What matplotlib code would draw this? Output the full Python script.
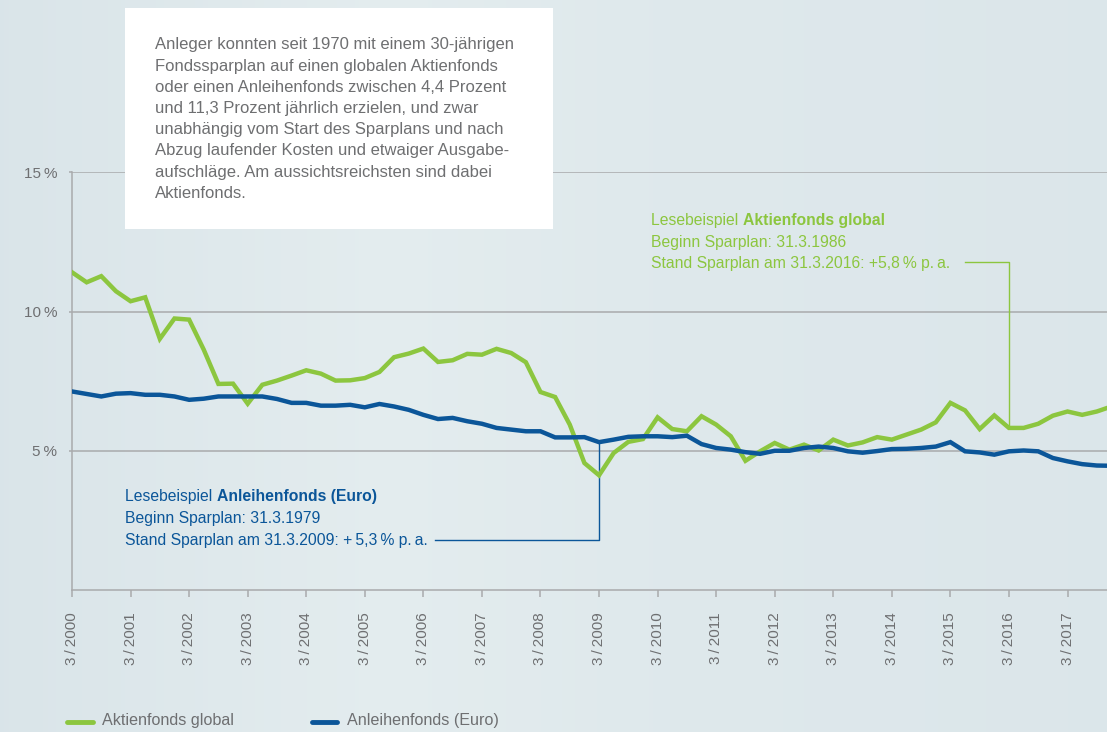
import numpy as np
import matplotlib
matplotlib.use("Agg")
import matplotlib.pyplot as plt
from matplotlib.patches import Rectangle
from matplotlib.lines import Line2D

plt.rcParams['font.family'] = ['Liberation Sans', 'DejaVu Sans']

# quarterly values, 3/2000 onwards (percent p.a.)
aktien = [11.41, 11.05, 11.27, 10.73, 10.37, 10.51, 9.02, 9.75, 9.71, 8.63,
          7.40, 7.41, 6.69, 7.37, 7.52, 7.70, 7.89, 7.77, 7.52, 7.53,
          7.61, 7.83, 8.36, 8.49, 8.67, 8.19, 8.25, 8.48, 8.45, 8.66,
          8.51, 8.18, 7.11, 6.93, 5.94, 4.56, 4.12, 4.92, 5.32, 5.42,
          6.20, 5.78, 5.70, 6.24, 5.94, 5.52, 4.64, 4.98, 5.28, 5.04,
          5.22, 5.01, 5.40, 5.19, 5.30, 5.49, 5.40, 5.58, 5.76, 6.02,
          6.72, 6.45, 5.78, 6.27, 5.82, 5.82, 5.97, 6.26, 6.41, 6.29,
          6.41, 6.59]
anleihen = [7.13, 7.04, 6.95, 7.05, 7.07, 7.01, 7.01, 6.95, 6.83, 6.87,
            6.95, 6.95, 6.95, 6.95, 6.86, 6.72, 6.72, 6.62, 6.62, 6.65,
            6.56, 6.68, 6.59, 6.47, 6.29, 6.14, 6.18, 6.06, 5.97, 5.82,
            5.76, 5.70, 5.70, 5.48, 5.48, 5.49, 5.31, 5.40, 5.50, 5.52,
            5.52, 5.49, 5.54, 5.24, 5.10, 5.04, 4.95, 4.89, 5.00, 5.00,
            5.10, 5.15, 5.10, 4.98, 4.93, 4.99, 5.06, 5.07, 5.10, 5.15,
            5.31, 4.98, 4.94, 4.86, 4.98, 5.01, 4.98, 4.74, 4.62, 4.52,
            4.47, 4.46]
start_year = 2000
tick_years = list(range(2000, 2018))
tick_labels = ["3\u2009/\u2009%d" % y for y in tick_years]
y_ticks = [5, 10, 15]
y_labels = ["5\u2009%", "10\u2009%", "15\u2009%"]

box_lines = [
    "Anleger konnten seit 1970 mit einem 30-jährigen",
    "Fondssparplan auf einen globalen Aktienfonds",
    "oder einen Anleihenfonds zwischen 4,4 Prozent",
    "und 11,3 Prozent jährlich erzielen, und zwar",
    "unabhängig vom Start des Sparplans und nach",
    "Abzug laufender Kosten und etwaiger Ausgabe-",
    "aufschläge. Am aussichtsreichsten sind dabei",
    "Aktienfonds.",
]

GREEN = "#8cc63f"
BLUE = "#0b5699"
GRAY_TXT = "#6e6f71"
GRID = "#a9aaac"

W, H = 1107, 732
fx = lambda px: px / W
fy = lambda py: 1 - py / H

fig = plt.figure(figsize=(W / 100, H / 100), dpi=100)

# background gradient
bg = fig.add_axes([0, 0, 1, 1], zorder=-5)
grad = np.interp(np.linspace(0, 1, 256), [0, 0.35, 0.6, 1.0], [0.2, 1.0, 0.6, 0.35])
c0 = np.array([0.845, 0.890, 0.910])
c1 = np.array([0.893, 0.928, 0.936])
img = c0[None, :] + grad[:, None] * (c1 - c0)[None, :]
bg.imshow(img[None, :, :], aspect="auto", extent=[0, 1, 0, 1])
bg.axis("off")

ax = fig.add_axes([fx(72), fy(590), fx(1107) - fx(72), fy(172.3) - fy(590)])
ax.patch.set_alpha(0)

x = start_year + np.arange(len(aktien)) / 4.0
ax.plot(x, aktien, color=GREEN, lw=3.2, solid_joinstyle="miter", zorder=4)
ax.plot(x, anleihen, color=BLUE, lw=3.2, solid_joinstyle="miter", zorder=4)

ax.set_xlim(2000, 2000 + (1107 - 72) / 58.56)
ax.set_ylim(0, 15)
for v in y_ticks:
    ax.axhline(v, color=GRID, lw=1.1, zorder=1)

for s in ["top", "right"]:
    ax.spines[s].set_visible(False)
for s in ["left", "bottom"]:
    ax.spines[s].set_color(GRID)
    ax.spines[s].set_linewidth(1.1)

ax.set_xticks(tick_years)
ax.set_xticklabels(tick_labels, rotation=90, va="top", ha="center")
ax.set_yticks(y_ticks)
ax.set_yticklabels(y_labels)
ax.tick_params(axis="x", length=5, width=1.1, color=GRID, pad=11,
               labelsize=11, labelcolor=GRAY_TXT)
ax.tick_params(axis="y", length=2.5, width=1.1, color=GRID, pad=8,
               labelsize=11, labelcolor=GRAY_TXT)

# leader lines to the reading examples
i16 = (2016 - start_year) * 4
ax.plot([2015.25, 2016, 2016], [11.77, 11.77, aktien[i16]], color=GREEN,
        lw=1, clip_on=False, zorder=3)
i09 = (2009 - start_year) * 4
ax.plot([2006.2, 2009, 2009], [1.80, 1.80, anleihen[i09]], color=BLUE,
        lw=1, clip_on=False, zorder=3)

renderer = fig.canvas.get_renderer()
ANN = 11.3


def mixed(px, py, normal, bold, color):
    t = fig.text(fx(px), fy(py), normal, color=color, fontsize=ANN, va="center")
    bb = t.get_window_extent(renderer)
    fig.text(fx(px + bb.width), fy(py), bold, color=color, fontsize=ANN,
             fontweight="bold", va="center")


mixed(651, 221, "Lesebeispiel ", "Aktienfonds global", GREEN)
fig.text(fx(651), fy(242.5), "Beginn Sparplan: 31.3.1986", color=GREEN,
         fontsize=ANN, va="center")
fig.text(fx(651), fy(264), "Stand Sparplan am 31.3.2016: +5,8\u2009% p.\u2009a.",
         color=GREEN, fontsize=ANN, va="center")

mixed(125, 497, "Lesebeispiel ", "Anleihenfonds (Euro)", BLUE)
fig.text(fx(125), fy(519), "Beginn Sparplan: 31.3.1979", color=BLUE,
         fontsize=ANN, va="center")
fig.text(fx(125), fy(540), "Stand Sparplan am 31.3.2009: +\u20095,3\u2009% p.\u2009a.",
         color=BLUE, fontsize=ANN, va="center")

# info box
fig.patches.append(Rectangle((fx(125), fy(229)), fx(553) - fx(125), fy(8) - fy(229),
                             transform=fig.transFigure, facecolor="white",
                             edgecolor="none", zorder=5))
for k, line in enumerate(box_lines):
    fig.text(fx(155), fy(45 + k * 21.2), line, color=GRAY_TXT, fontsize=12,
             va="center", zorder=6)

# legend
fig.lines.append(Line2D([fx(67), fx(93)], [fy(721.5)] * 2, transform=fig.transFigure,
                        color=GREEN, lw=3.5, solid_capstyle="round"))
fig.text(fx(102), fy(721), "Aktienfonds global", color=GRAY_TXT, fontsize=11.6,
         va="center")
fig.lines.append(Line2D([fx(312), fx(337)], [fy(721.5)] * 2, transform=fig.transFigure,
                        color=BLUE, lw=3.5, solid_capstyle="round"))
fig.text(fx(347), fy(721), "Anleihenfonds (Euro)", color=GRAY_TXT, fontsize=11.6,
         va="center")

fig.savefig("out.png", dpi=100)
